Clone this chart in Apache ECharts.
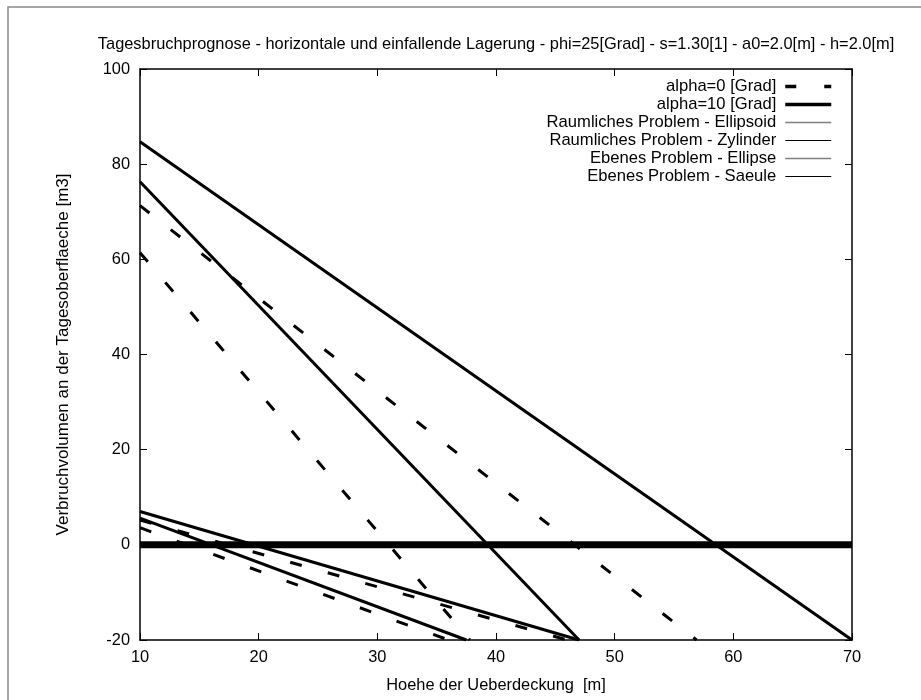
<!DOCTYPE html>
<html>
<head>
<meta charset="utf-8">
<script src="https://cdn.jsdelivr.net/npm/echarts@6/dist/echarts.min.js"></script>
<style>
body { margin: 0; background: #fff; }
#graph { width: 921px; height: 700px; }
</style>
</head>
<body>
<div id="graph"></div>
<script>
var titleText = 'Tagesbruchprognose - horizontale und einfallende Lagerung - phi=25[Grad] - s=1.30[1] - a0=2.0[m] - h=2.0[m]'
var xTicks = [10, 70, 10]      // min, max, step
var yTicks = [-20, 100, 20]

// every curve starts at x=10 and runs down to the bottom of the plot (y=-20)
var startX = 10
var bottomY = -20
var alpha0Start = [71.3, 61.4, 5.2, 3.6]     // dashed, alpha=0
var alpha0EndX = [56.9, 37.8, 46.0, 36.0]
var alpha10Start = [84.7, 76.3, 7.0, 5.6]    // solid, alpha=10
var alpha10EndX = [70.0, 47.0, 47.0, 37.5]
var zeroLine = [[10, 0], [70, 0]]

var problemNames = ['Raumliches Problem - Ellipsoid', 'Raumliches Problem - Zylinder', 'Ebenes Problem - Ellipse', 'Ebenes Problem - Saeule']
var problemColors = ['#808080', '#000', '#808080', '#000']

var font = 'Liberation Sans, Arial, sans-serif'
var fontSize = 16.4

function makeLine(name, y0, x1, dashed) {
    return {
        name: name,
        type: 'line',
        symbol: 'none',
        silent: true,
        data: [[startX, y0], [x1, bottomY]],
        lineStyle: { color: '#000', width: 3, type: dashed ? [12, 27] : 'solid' },
        itemStyle: { color: '#000' }
    }
}

function buildSeries() {
    var series = []
    for (var i = 0; i < alpha0Start.length; i++) {
        series.push(makeLine('alpha=0 [Grad]', alpha0Start[i], alpha0EndX[i], true))
    }
    for (var i = 0; i < alpha10Start.length; i++) {
        series.push(makeLine('alpha=10 [Grad]', alpha10Start[i], alpha10EndX[i], false))
    }
    for (var i = 0; i < problemNames.length; i++) {
        series.push({
            name: problemNames[i],
            type: 'line',
            symbol: 'none',
            data: [],
            lineStyle: { color: problemColors[i], width: problemColors[i] == '#000' ? 1 : 1.6 },
            itemStyle: { color: problemColors[i] }
        })
    }
    series.push({
        name: 'zero',
        type: 'line',
        symbol: 'none',
        silent: true,
        data: zeroLine,
        lineStyle: { color: '#000', width: 7 }
    })
    return series
}

function buildLegendData() {
    var items = [
        { name: 'alpha=0 [Grad]', lineStyle: { width: 3.5, type: [11, 28] } },
        { name: 'alpha=10 [Grad]', lineStyle: { width: 3.5 } }
    ]
    for (var i = 0; i < problemNames.length; i++) {
        items.push({ name: problemNames[i], lineStyle: { width: problemColors[i] == '#000' ? 1 : 1.6 } })
    }
    return items
}

function axisBase() {
    return {
        type: 'value',
        interval: 0,
        axisLine: { show: true, onZero: false, lineStyle: { color: '#000', width: 1.5 } },
        axisTick: { show: true, inside: true, length: 7, lineStyle: { color: '#000', width: 1 } },
        splitLine: { show: false },
        axisLabel: { color: '#000', fontSize: fontSize, fontFamily: font }
    }
}

var chart = echarts.init(document.getElementById('graph'))

var xBottom = axisBase()
xBottom.min = xTicks[0]; xBottom.max = xTicks[1]; xBottom.interval = xTicks[2]
xBottom.position = 'bottom'
xBottom.axisLabel.margin = 9
xBottom.name = 'Hoehe der Ueberdeckung  [m]'
xBottom.nameLocation = 'middle'
xBottom.nameGap = 37
xBottom.nameTextStyle = { color: '#000', fontSize: fontSize, fontFamily: font }

var xTop = axisBase()
xTop.min = xTicks[0]; xTop.max = xTicks[1]; xTop.interval = xTicks[2]
xTop.position = 'top'
xTop.axisLabel = { show: false }

var yLeft = axisBase()
yLeft.min = yTicks[0]; yLeft.max = yTicks[1]; yLeft.interval = yTicks[2]
yLeft.position = 'left'
yLeft.axisLabel.margin = 10
yLeft.name = 'Verbruchvolumen an der Tagesoberflaeche [m3]'
yLeft.nameLocation = 'middle'
yLeft.nameGap = 68
yLeft.nameTextStyle = { color: '#000', fontSize: 17, fontFamily: font }

var yRight = axisBase()
yRight.min = yTicks[0]; yRight.max = yTicks[1]; yRight.interval = yTicks[2]
yRight.position = 'right'
yRight.axisLabel = { show: false }

var option = {
    animation: false,
    backgroundColor: '#fff',
    title: {
        text: titleText,
        left: 491,
        textAlign: 'center',
        top: 31,
        textStyle: { color: '#000', fontSize: fontSize, fontWeight: 'normal', fontFamily: font }
    },
    grid: { left: 140, right: 69, top: 69, bottom: 60, containLabel: false },
    legend: {
        data: buildLegendData(),
        orient: 'vertical',
        align: 'right',
        right: 88,
        top: 78,
        padding: 0,
        itemWidth: 46,
        itemHeight: 14,
        itemGap: 1,
        selectedMode: false,
        itemStyle: { opacity: 0 },
        textStyle: { color: '#000', fontSize: 16.6, fontFamily: font, padding: [0, 4, 0, 0] }
    },
    graphic: [{
        type: 'rect',
        shape: { x: 8, y: 7, width: 1000, height: 1000 },
        style: { fill: 'none', stroke: '#888', lineWidth: 1.5 },
        silent: true
    }],
    xAxis: [xBottom, xTop],
    yAxis: [yLeft, yRight],
    series: buildSeries()
}

chart.setOption(option)
</script>
</body>
</html>
